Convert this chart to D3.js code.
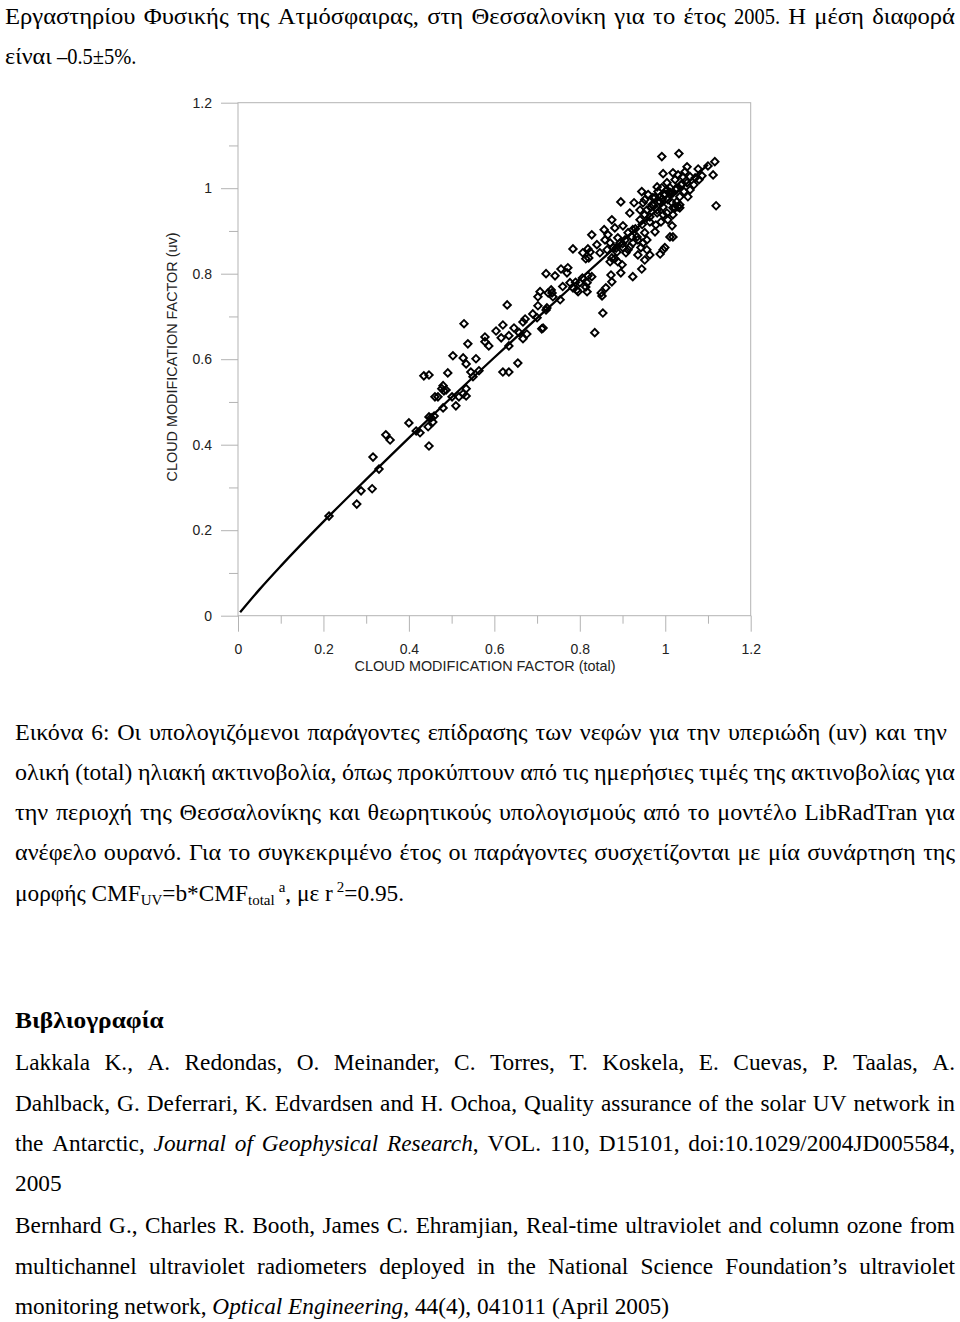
<!DOCTYPE html>
<html><head><meta charset="utf-8">
<script src="https://cdn.jsdelivr.net/npm/d3@7"></script>
<style>body{margin:0;background:#fff}svg{display:block}</style>
</head><body>
<svg id="c" width="960" height="1322"></svg>
<script>
// ---- data ----
const cmfTotal=[0.213,0.278,0.288,0.314,0.330,0.316,0.346,0.356,0.400,0.417,0.426,0.447,0.445,0.447,0.456,0.459,0.480,0.510,0.461,0.468,0.482,0.517,0.534,0.501,0.435,0.447,0.491,0.503,0.527,0.534,0.557,0.529,0.538,0.545,0.564,0.550,0.477,0.487,0.480,0.527,0.534,0.452,
0.630,0.620,0.604,0.578,0.578,0.587,0.616,0.634,0.634,0.646,0.658,0.667,0.676,0.655,0.620,0.634,0.711,0.667,0.672,0.690,0.700,0.721,0.702,0.702,0.726,0.735,0.707,0.721,0.742,0.756,0.772,0.770,0.754,0.777,0.784,0.796,0.800,0.814,0.819,0.828,
0.784,0.807,0.819,0.824,0.814,0.821,0.828,0.847,0.864,0.871,0.859,0.875,0.861,0.852,0.854,0.835,0.871,0.882,0.899,0.896,0.927,0.917,0.875,0.882,0.901,0.840,0.875,0.901,0.917,0.889,0.896,0.873,
0.952,0.976,0.957,0.957,0.948,0.936,1.016,1.011,0.995,0.988,0.945,0.924,0.941,0.964,0.981,0.957,0.948,1.023,1.034,1.053,1.016,0.976,0.934,0.924,0.913,
0.992,1.032,1.116,1.100,1.112,1.119,1.077,1.051,1.046,0.995,1.018,1.030,1.058,1.070,0.945,1.018,1.030,0.992,1.004,0.981,0.971,0.988,1.006,0.988,1.004,1.018,1.034,1.027,0.995,0.981,1.023,1.041,1.051,0.995,1.004,1.034,
0.908,0.922,0.999,1.018,0.850,0.793,0.817,0.817,0.733,0.723,0.737,0.714,
0.960,0.969,0.983,0.997,1.011,1.025,1.037,1.044,1.058,1.067,1.079,1.086,0.952,0.964,0.978,0.990,1.006,1.018,0.941,0.952,
0.857,0.866,0.889,0.894,0.906,0.878,0.887,0.913,0.924,0.936,0.952,0.964,0.943,
0.972,0.985,1.000,1.012,1.026,0.966,0.993,1.008,1.040,0.930,0.946,0.900,0.885,0.790,0.806,0.760];
const cmfUV=[0.233,0.261,0.292,0.297,0.343,0.371,0.423,0.411,0.451,0.432,0.428,0.397,0.442,0.465,0.453,0.467,0.486,0.491,0.512,0.512,0.526,0.512,0.514,0.512,0.561,0.563,0.568,0.608,0.603,0.589,0.601,0.683,0.636,0.570,0.573,0.559,0.531,0.528,0.538,0.519,0.531,0.463,
0.727,0.680,0.666,0.652,0.641,0.631,0.650,0.655,0.631,0.673,0.662,0.648,0.659,0.591,0.570,0.570,0.671,0.687,0.694,0.706,0.697,0.715,0.725,0.746,0.755,0.755,0.758,0.800,0.795,0.811,0.814,0.802,0.739,0.779,0.767,0.758,0.779,0.769,0.795,0.793,
0.858,0.849,0.858,0.851,0.835,0.837,0.891,0.849,0.856,0.872,0.879,0.781,0.767,0.748,0.708,0.662,0.828,0.835,0.821,0.968,0.966,0.942,0.926,0.907,0.912,0.868,0.837,0.861,0.863,0.828,0.802,0.797,
0.896,0.898,0.879,0.856,0.872,0.879,0.912,0.886,0.856,0.846,0.811,0.793,0.926,0.933,0.942,0.949,0.966,0.954,0.961,0.980,0.966,0.978,0.886,0.903,0.896,
1.074,1.081,1.062,1.052,1.031,0.959,1.045,1.050,1.038,1.034,1.036,1.031,1.027,1.024,0.992,0.954,0.956,1.001,1.013,1.003,0.978,0.968,0.973,0.980,0.996,0.989,0.980,0.968,0.956,0.949,1.020,1.027,1.013,0.938,0.942,0.954,
0.849,0.886,0.861,0.886,0.755,0.762,0.758,0.779,0.762,0.720,0.746,0.673,
0.985,0.961,0.992,0.985,1.001,0.996,1.008,0.992,0.996,1.008,1.020,1.029,0.938,0.921,0.914,0.921,0.926,0.938,0.949,0.973,
0.903,0.891,0.884,0.872,0.879,0.861,0.851,0.856,0.872,0.844,0.832,0.844,0.861,
0.960,0.970,0.985,0.990,1.000,0.955,0.975,0.990,1.010,0.905,0.915,0.870,0.860,0.780,0.790,0.770];
// fitted curve CMF_UV = b*CMF_total^a
const fitTotal=[0.005,0.05,0.1,0.2,0.3,0.4,0.5,0.6,0.7,0.8,0.9,1.0,1.1];
const fitUV=[0.008,0.061,0.116,0.220,0.319,0.416,0.511,0.604,0.696,0.787,0.877,0.966,1.055];
const tickValues=[0,0.2,0.4,0.6,0.8,1,1.2];
const tickLabels=["0","0.2","0.4","0.6","0.8","1","1.2"];
const minorTicks=[0.1,0.3,0.5,0.7,0.9,1.1];
const xTitle="CLOUD MODIFICATION FACTOR (total)";
const yTitle="CLOUD MODIFICATION FACTOR (uv)";

const topLines=["Εργαστηρίου Φυσικής της Ατμόσφαιρας, στη Θεσσαλονίκη για το έτος 2005. Η μέση διαφορά","είναι –0.5±5%."];
const captionLines=["Εικόνα 6: Οι υπολογιζόμενοι παράγοντες επίδρασης των νεφών για την υπεριώδη (uv) και την",
"ολική (total) ηλιακή ακτινοβολία, όπως προκύπτουν από τις ημερήσιες τιμές της ακτινοβολίας για",
"την περιοχή της Θεσσαλονίκης και θεωρητικούς υπολογισμούς από το μοντέλο LibRadTran για",
"ανέφελο ουρανό. Για το συγκεκριμένο έτος οι παράγοντες συσχετίζονται με μία συνάρτηση της"];
const refHeading="Βιβλιογραφία";
const refLines=["Lakkala K., A. Redondas, O. Meinander, C. Torres, T. Koskela, E. Cuevas, P. Taalas, A.",
"Dahlback, G. Deferrari, K. Edvardsen and H. Ochoa, Quality assurance of the solar UV network in",
"the Antarctic, *Journal of Geophysical Research*, VOL. 110, D15101, doi:10.1029/2004JD005584,",
"2005",
"Bernhard G., Charles R. Booth, James C. Ehramjian, Real-time ultraviolet and column ozone from",
"multichannel ultraviolet radiometers deployed in the National Science Foundation’s ultraviolet",
"monitoring network, *Optical Engineering*, 44(4), 041011 (April 2005)"];

// ---- chart ----
const svg=d3.select("#c");
const SANS="'Liberation Sans', Arial, Helvetica, sans-serif";
const SERIF="'Liberation Serif', 'Times New Roman', serif";
const FS=23.3;
const GRID="#b3b3b3";

const x=d3.scaleLinear().domain([0,1.2]).range([238,750.7]);
const y=d3.scaleLinear().domain([0,1.2]).range([615.7,102.7]);

const chart=svg.append("g");
chart.append("g").attr("transform",`translate(0,${y(0)})`)
  .call(d3.axisBottom(x).tickValues(minorTicks).tickSize(8).tickFormat(""));
chart.append("g").attr("transform",`translate(${x(0)},0)`)
  .call(d3.axisLeft(y).tickValues(minorTicks).tickSize(9).tickFormat(""));
chart.append("g").attr("transform",`translate(0,${y(0)})`)
  .call(d3.axisBottom(x).tickValues(tickValues).tickSize(16).tickPadding(12).tickFormat((d,i)=>tickLabels[i]));
chart.append("g").attr("transform",`translate(${x(0)},0)`)
  .call(d3.axisLeft(y).tickValues(tickValues).tickSize(17).tickPadding(9).tickFormat((d,i)=>tickLabels[i]));
chart.selectAll(".domain").remove();
chart.selectAll(".tick line").attr("stroke",GRID);
chart.selectAll(".tick text").attr("font-family",SANS).attr("font-size",14).attr("fill","#222");
chart.append("rect").attr("x",x(0)).attr("y",y(1.2)).attr("width",x(1.2)-x(0)).attr("height",y(0)-y(1.2))
  .attr("fill","none").attr("stroke",GRID).attr("stroke-width",1);

chart.append("text").attr("x",485).attr("y",671).attr("text-anchor","middle")
  .attr("font-family",SANS).attr("font-size",14.4).attr("fill","#222").text(xTitle);
chart.append("text").attr("transform","translate(177,357) rotate(-90)").attr("text-anchor","middle")
  .attr("font-family",SANS).attr("font-size",14.4).attr("fill","#222").text(yTitle);

const pts=fitTotal.map((d,i)=>[d,fitUV[i]]);
chart.append("path").datum(pts)
  .attr("d",d3.line().x(d=>x(d[0])).y(d=>y(d[1])).curve(d3.curveMonotoneX))
  .attr("fill","none").attr("stroke","#000").attr("stroke-width",2.3);

const sym=d3.symbol().type(d3.symbolSquare).size(28);
chart.append("g").selectAll("path").data(cmfTotal.map((d,i)=>[d,cmfUV[i]])).join("path")
  .attr("d",sym).attr("transform",d=>`translate(${x(d[0])},${y(d[1])}) rotate(45)`)
  .attr("fill","none").attr("stroke","#000").attr("stroke-width",1.9);

// ---- text ----
const GREEK=/[\u0370-\u03FF\u1F00-\u1FFF]/;
function parseWords(s){
  const words=[];let it=false,cur=[],buf="";
  const flush=()=>{if(buf){cur.push([buf,it]);buf="";}};
  for(const ch of s){
    if(ch==="*"){flush();it=!it;}
    else if(ch===" "){flush();if(cur.length){words.push(cur);cur=[];}}
    else buf+=ch;
  }
  flush();if(cur.length)words.push(cur);
  return words;
}
function drawLine(s,x0,x1,yb,opts={}){
  const sx=opts.sx||1, fs=opts.fs||FS, gk=opts.gk||1;
  const words=parseWords(s);
  const g=svg.append("g").attr("transform",`translate(${x0},${yb}) scale(${sx},1)`);
  const items=words.map(w=>{
    const wg=g.append("g");
    const t=wg.append("text").attr("y",0).attr("font-family",SERIF).attr("font-size",fs).attr("fill","#000")
      .attr("font-weight",opts.bold?"bold":null);
    w.forEach(([txt,it])=>t.append("tspan").attr("font-style",it?"italic":null).text(txt));
    const k=GREEK.test(w.map(p=>p[0]).join(""))?gk:1;
    return {wg,k,w:t.node().getComputedTextLength()*k};
  });
  const total=d3.sum(items,d=>d.w);
  const W=(x1-x0)/sx;
  const gap=(opts.justify&&items.length>1)?(W-total)/(items.length-1):fs*0.25;
  let xx=0;
  items.forEach(d=>{d.wg.attr("transform",`translate(${xx},0) scale(${d.k},1)`);xx+=d.w+gap;});
}
drawLine(topLines[0],5,955,24,{justify:true,sx:0.88,gk:1.2});
drawLine(topLines[1],5,955,64,{sx:0.88,gk:1.18});
const capBase=[740,780,820,860];
captionLines.forEach((l,i)=>drawLine(l,15,i===0?947:955,capBase[i],{justify:true,gk:1.035}));
const f=svg.append("text").attr("x",15).attr("y",901).attr("font-family",SERIF).attr("font-size",FS).attr("fill","#000");
f.append("tspan").text("μορφής CMF");
f.append("tspan").attr("font-size",15).attr("dy",4).text("UV");
f.append("tspan").attr("dy",-4).text("=b*CMF");
f.append("tspan").attr("font-size",15).attr("dy",4).text("total");
f.append("tspan").attr("font-size",15).attr("dy",-13).attr("dx",4).text("a");
f.append("tspan").attr("dy",9).text(", με r");
f.append("tspan").attr("font-size",15).attr("dy",-9).attr("dx",4).text("2");
f.append("tspan").attr("dy",9).text("=0.95.");

drawLine(refHeading,15,955,1028,{bold:true,gk:1.09});
const refBase=[1070,1111,1151,1191,1233,1274,1314];
refLines.forEach((l,i)=>drawLine(l,15,955,refBase[i],{justify:!(i===3||i===6)}));
</script>
</body></html>
